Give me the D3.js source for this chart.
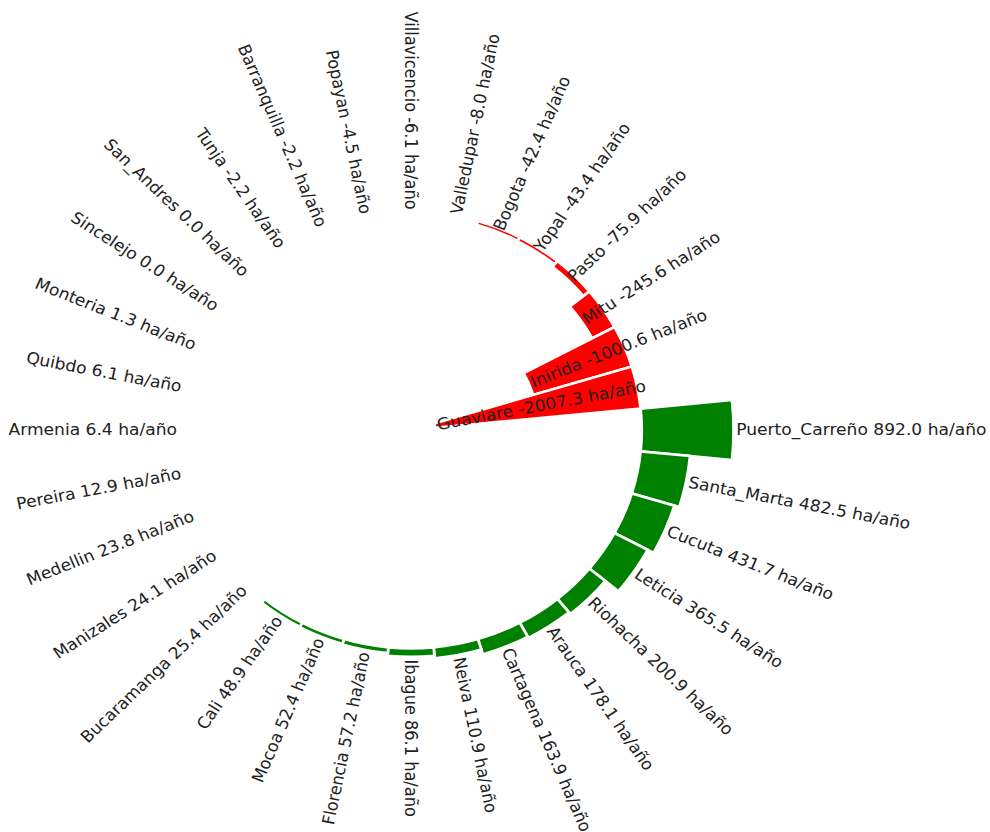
<!DOCTYPE html>
<html>
<head>
<meta charset="utf-8">
<script src="https://cdn.jsdelivr.net/npm/d3@7"></script>
<style>
  html, body { margin: 0; padding: 0; background: #ffffff; }
  svg { display: block; }
</style>
</head>
<body>
<svg id="chart" width="990" height="832"></svg>
<script>
const cities = ["Puerto_Carreño","Santa_Marta","Cucuta","Leticia","Riohacha","Arauca","Cartagena","Neiva","Ibague","Florencia","Mocoa","Cali","Bucaramanga","Manizales","Medellin","Pereira","Armenia","Quibdo","Monteria","Sincelejo","San_Andres","Tunja","Barranquilla","Popayan","Villavicencio","Valledupar","Bogota","Yopal","Pasto","Mitu","Inirida","Guaviare"];
const rates = [892.0,482.5,431.7,365.5,200.9,178.1,163.9,110.9,86.1,57.2,52.4,48.9,25.4,24.1,23.8,12.9,6.4,6.1,1.3,0.0,0.0,-2.2,-2.2,-4.5,-6.1,-8.0,-42.4,-43.4,-75.9,-245.6,-1000.6,-2007.3];
const unit = "ha/año";

const svg = d3.select("#chart");
const cx = 411, cy = 430, sx = 1.056;
const r0 = 218.5, k = 0.0975, pad = 2.5;
const n = cities.length;

const theta = d3.scaleLinear().domain([0, n]).range([0, 2 * Math.PI]);
const rScale = d3.scaleLinear().domain([0, 1000]).range([r0, r0 + 1000 * k]);
const w = 2 * Math.PI / n;

const g = svg.append("g").attr("transform", `translate(${cx},${cy}) scale(${sx},1)`);

const arc = d3.arc();
g.selectAll("path.bar").data(rates).enter().append("path")
  .attr("class", "bar")
  .attr("d", (v, i) => {
    const a = theta(i) + Math.PI / 2;
    const r1 = rScale(v);
    return arc({innerRadius: Math.min(r0, r1), outerRadius: Math.max(r0, r1),
                startAngle: a - w / 2, endAngle: a + w / 2});
  })
  .attr("fill", v => v >= 0 ? "#008000" : "#ff0000")
  .attr("stroke", "#ffffff")
  .attr("stroke-width", 2.6);

g.selectAll("text.lab").data(rates).enter().append("text")
  .attr("class", "lab")
  .each(function(v, i) {
    const t = theta(i);
    const deg = t * 180 / Math.PI;
    const r = rScale(v) + pad;
    const x = r * Math.cos(t), y = r * Math.sin(t);
    const flip = deg > 90.01 && deg <= 270.01;
    d3.select(this)
      .attr("transform", `translate(${x},${y}) rotate(${flip ? deg + 180 : deg})`)
      .attr("text-anchor", flip ? "end" : "start")
      .attr("dominant-baseline", "central")
      .text(`${cities[i]} ${v.toFixed(1)} ${unit}`);
  })
  .attr("font-family", "DejaVu Sans, sans-serif")
  .attr("font-size", 16.2)
  .attr("fill", "#222");
</script>
</body>
</html>
